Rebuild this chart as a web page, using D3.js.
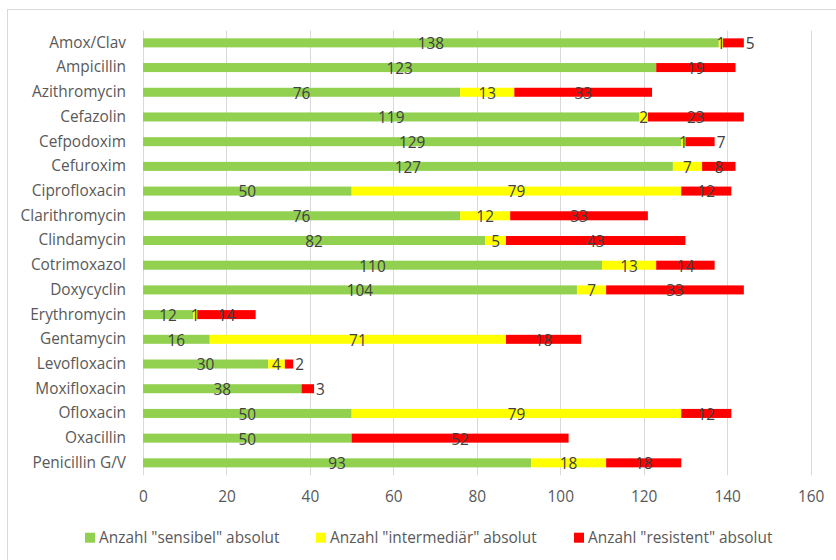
<!DOCTYPE html>
<html>
<head>
<meta charset="utf-8">
<script src="https://cdn.jsdelivr.net/npm/d3@7"></script>
<style>
  html, body { margin: 0; padding: 0; background: #fff; }
  svg { display: block; font-family: "Open Sans", "Liberation Sans", Arial, sans-serif; }
</style>
</head>
<body>
<svg id="chart" width="836" height="560"></svg>
<script>
// Antibiotics (top to bottom)
const categories = [
  "Amox/Clav", "Ampicillin", "Azithromycin", "Cefazolin", "Cefpodoxim",
  "Cefuroxim", "Ciprofloxacin", "Clarithromycin", "Clindamycin", "Cotrimoxazol",
  "Doxycyclin", "Erythromycin", "Gentamycin", "Levofloxacin", "Moxifloxacin",
  "Ofloxacin", "Oxacillin", "Penicillin G/V"
];

// Absolute counts per susceptibility class
const sensibel     = [138, 123, 76, 119, 129, 127, 50, 76, 82, 110, 104, 12, 16, 30, 38, 50, 50, 93];
const intermediaer = [1, 0, 13, 2, 1, 7, 79, 12, 5, 13, 7, 1, 71, 4, 0, 79, 0, 18];
const resistent    = [5, 19, 33, 23, 7, 8, 12, 33, 43, 14, 33, 14, 18, 2, 3, 12, 52, 18];

const seriesNames = ['Anzahl "sensibel" absolut', 'Anzahl "intermediär" absolut', 'Anzahl "resistent" absolut'];
const seriesColors = ["#92d050", "#ffff00", "#ff0000"];

const xTicks = [0, 20, 40, 60, 80, 100, 120, 140, 160];

const FONT = '"Open Sans", "Liberation Sans", Arial, sans-serif';
const FS = "15.4px";

const rows = categories.map((c, i) => ({
  name: c, sensibel: sensibel[i], intermediaer: intermediaer[i], resistent: resistent[i]
}));
const keys = ["sensibel", "intermediaer", "resistent"];
const stacked = d3.stack().keys(keys)(rows);

const svg = d3.select("#chart");

// Chart frame
svg.append("rect")
  .attr("x", 7.5).attr("y", 9.5)
  .attr("width", 840).attr("height", 560)
  .attr("fill", "none").attr("stroke", "#d9d9d9");

const x = d3.scaleLinear().domain([0, 160]).range([143, 810.6]);
const y = d3.scaleBand().domain(categories)
  .range([30.5, 475.2]).paddingInner(0.635).paddingOuter(0.3175);

// Vertical gridlines
svg.append("g").selectAll("line").data(xTicks).join("line")
  .attr("x1", d => Math.round(x(d)) + 0.5).attr("x2", d => Math.round(x(d)) + 0.5)
  .attr("y1", 30.5).attr("y2", 475.2)
  .attr("stroke", "#d9d9d9").attr("stroke-width", 1);

// X axis tick labels
const xAxis = d3.axisBottom(x).tickValues(xTicks).tickSize(0).tickPadding(0);
const gx = svg.append("g").attr("transform", "translate(0,497)").call(xAxis);
gx.select(".domain").remove();
gx.selectAll("text")
  .attr("dy", "0.35em").attr("y", 0)
  .attr("fill", "#595959").style("font-size", FS)
  .style("font-family", FONT);

// Category labels
const yAxis = d3.axisLeft(y).tickSize(0).tickPadding(0);
const gy = svg.append("g").attr("transform", "translate(126,0)").call(yAxis);
gy.select(".domain").remove();
gy.selectAll("text")
  .attr("fill", "#595959").style("font-size", FS)
  .style("font-family", FONT);

// Stacked bar segments
const barH = y.bandwidth();
const layers = svg.append("g").selectAll("g").data(stacked).join("g")
  .attr("fill", (d, i) => seriesColors[i]);
layers.selectAll("rect").data(d => d.map(s => ({ s, name: s.data.name })))
  .join("rect")
  .attr("x", d => x(d.s[0]))
  .attr("y", d => y(d.name))
  .attr("width", d => x(d.s[1]) - x(d.s[0]))
  .attr("height", barH);

// Value labels (small resistant counts sit just past the bar end)
const labels = svg.append("g")
  .style("font-size", FS).style("font-family", FONT).attr("fill", "#404040");
stacked.forEach((layer, li) => {
  layer.forEach(s => {
    const v = s[1] - s[0];
    if (v === 0) return;
    const cy = y(s.data.name) + barH / 2 + 1;
    const outside = li === 2 && v < 8;
    labels.append("text")
      .attr("x", outside ? x(s[1]) + 2 : (x(s[0]) + x(s[1])) / 2)
      .attr("y", cy)
      .attr("dy", "0.35em")
      .attr("text-anchor", outside ? "start" : "middle")
      .text(v);
  });
});

// Legend
const legendX = [85, 316, 574];
const legend = svg.append("g");
seriesNames.forEach((n, i) => {
  legend.append("rect")
    .attr("x", legendX[i]).attr("y", 532.7)
    .attr("width", 10).attr("height", 10)
    .attr("fill", seriesColors[i]);
  legend.append("text")
    .attr("x", legendX[i] + 14).attr("y", 537.7)
    .attr("dy", "0.35em")
    .attr("fill", "#595959").style("font-size", FS).style("font-family", FONT)
    .text(n);
});
</script>
</body>
</html>
